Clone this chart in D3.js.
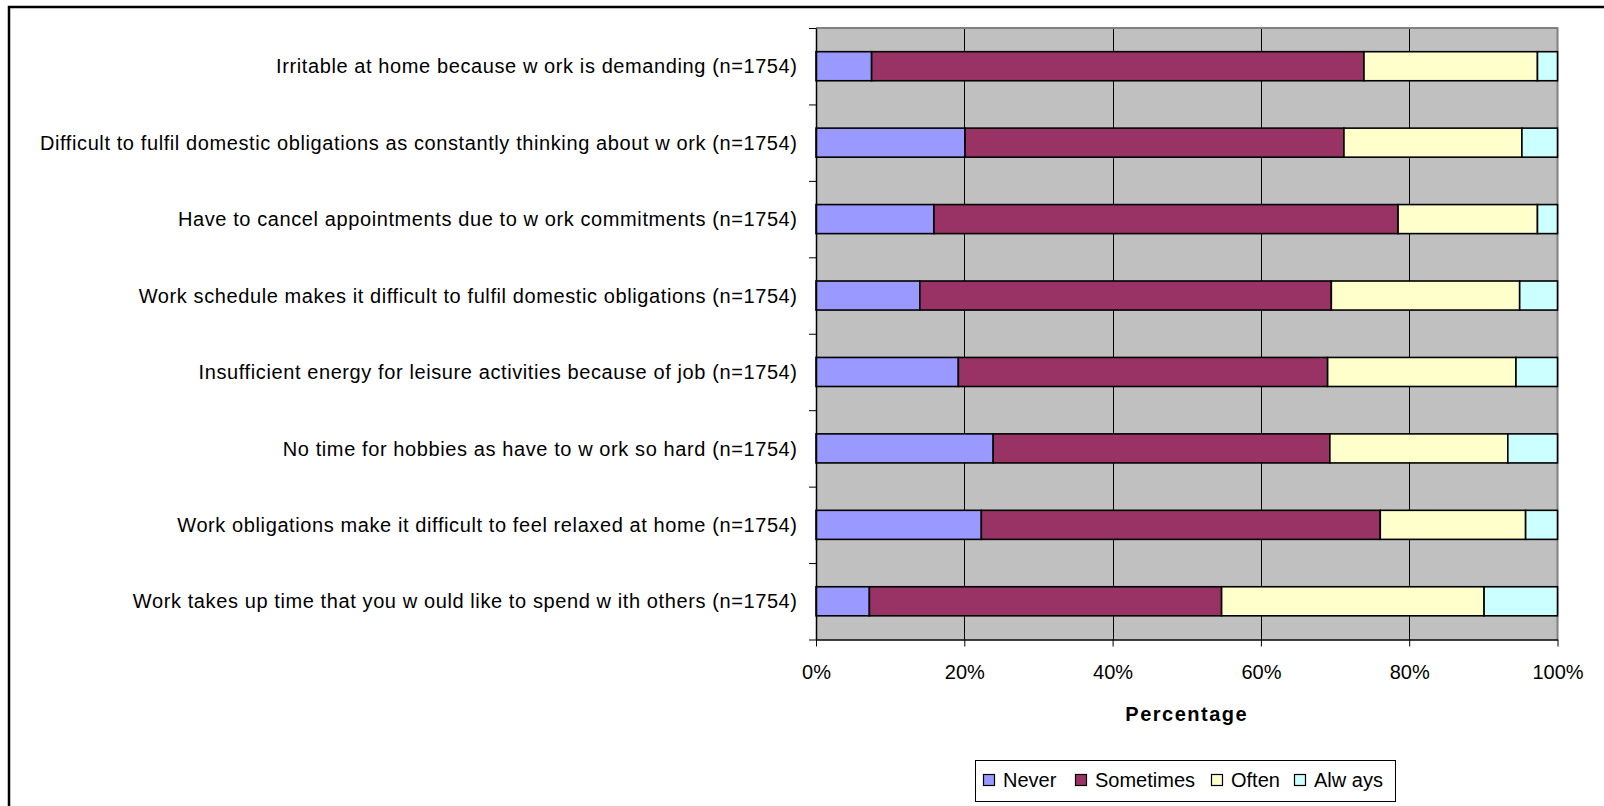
<!DOCTYPE html>
<html>
<head>
<meta charset="utf-8">
<script src="https://cdn.jsdelivr.net/npm/d3@7"></script>
<style>
  html, body { margin: 0; padding: 0; background: #ffffff; }
  svg { display: block; }
  text { font-family: "Liberation Sans", Arial, sans-serif; fill: #000; }
</style>
</head>
<body>
<svg id="chart" width="1604" height="806"></svg>
<script>
const categories = [
  "Irritable at home because w ork is demanding (n=1754)",
  "Difficult to fulfil domestic obligations as constantly thinking about w ork (n=1754)",
  "Have to cancel appointments due to w ork commitments (n=1754)",
  "Work schedule makes it difficult to fulfil domestic obligations (n=1754)",
  "Insufficient energy for leisure activities because of job (n=1754)",
  "No time for hobbies as have to w ork so hard (n=1754)",
  "Work obligations make it difficult to feel relaxed at home (n=1754)",
  "Work takes up time that you w ould like to spend w ith others (n=1754)"
];
const seriesNames = ["Never", "Sometimes", "Often", "Always"];
const legendLabels = ["Never", "Sometimes", "Often", "Alw ays"];
const never     = [7.5, 20.1, 15.9, 14.0, 19.2, 23.9, 22.3, 7.2];
const sometimes = [66.4, 51.1, 62.6, 55.5, 49.8, 45.4, 53.8, 47.5];
const often     = [23.4, 24.0, 18.8, 25.4, 25.4, 24.0, 19.6, 35.4];
const always    = [2.7, 4.8, 2.7, 5.1, 5.6, 6.7, 4.3, 9.9];
const xTicks = [0, 20, 40, 60, 80, 100];
const colors = ["#9999FF", "#993366", "#FFFFCC", "#CCFFFF"];

const rows = categories.map((c, i) => ({
  cat: c, Never: never[i], Sometimes: sometimes[i], Often: often[i], Always: always[i]
}));
const stacked = d3.stack().keys(seriesNames).offset(d3.stackOffsetExpand)(rows);

const svg = d3.select("#chart");
const L = 816, R = 1557.5, T = 28, B = 639.5;

// outer chart border
svg.append("rect").attr("x", 9).attr("y", 7).attr("width", 1610).attr("height", 820)
  .attr("fill", "#fff").attr("stroke", "#000").attr("stroke-width", 2.5);

const x = d3.scaleLinear().domain([0, 1]).range([L, R]);
const y = d3.scaleBand().domain(categories).range([T, B]).paddingInner(0.62).paddingOuter(0.31);
const yT = d3.scaleLinear().domain([0, categories.length]).range([T, B]);

// plot background
svg.append("rect").attr("x", L).attr("y", T).attr("width", R - L).attr("height", B - T)
  .attr("fill", "#C0C0C0");

// gridlines
svg.append("g").selectAll("line").data(xTicks.filter(t => t > 0 && t < 100)).join("line")
  .attr("x1", d => Math.round(x(d / 100)) + 0.5).attr("x2", d => Math.round(x(d / 100)) + 0.5)
  .attr("y1", T).attr("y2", B).attr("stroke", "#000").attr("stroke-width", 1);

// plot border top/right
svg.append("path").attr("d", `M${L},${T}H${R}V${B}`).attr("fill", "none")
  .attr("stroke", "#808080").attr("stroke-width", 2);

// bars
svg.append("g").selectAll("g").data(stacked).join("g")
  .attr("fill", (d, i) => colors[i])
  .selectAll("rect").data(d => d).join("rect")
  .attr("x", d => x(d[0])).attr("width", d => x(d[1]) - x(d[0]))
  .attr("y", d => y(d.data.cat)).attr("height", y.bandwidth())
  .attr("stroke", "#000").attr("stroke-width", 1.6);

// y axis
const yAxis = svg.append("g").attr("transform", `translate(${L},0)`)
  .call(d3.axisLeft(yT).tickValues(d3.range(0, categories.length + 1)).tickFormat("").tickSize(7).tickSizeOuter(0));
yAxis.select(".domain").attr("stroke", "#000").attr("stroke-width", 1.5);
yAxis.selectAll(".tick line").attr("stroke", "#000").attr("stroke-width", 1);

// category labels
svg.append("g").selectAll("text").data(categories).join("text")
  .attr("x", 797.6).attr("y", d => y(d) + y.bandwidth() / 2).attr("dy", "0.36em")
  .attr("text-anchor", "end").style("font-size", "20px").style("letter-spacing", "0.6px").text(d => d);

// x axis
const xAxis = svg.append("g").attr("transform", `translate(0,${B})`)
  .call(d3.axisBottom(x).tickValues(xTicks.map(t => t / 100)).tickFormat(d => Math.round(d * 100) + "%").tickSize(7).tickSizeOuter(0).tickPadding(18));
xAxis.select(".domain").attr("stroke", "#000").attr("stroke-width", 1.5);
xAxis.selectAll(".tick line").attr("stroke", "#000");
xAxis.selectAll(".tick text").style("font-size", "20px").style("font-family", "'Liberation Sans', Arial, sans-serif").attr("fill", "#000");

// axis title
svg.append("text").attr("x", (L + R) / 2).attr("y", 721).attr("text-anchor", "middle")
  .style("font-size", "20px").style("font-weight", "bold").style("letter-spacing", "1.5px").text("Percentage");

// legend
const legend = svg.append("g");
legend.append("rect").attr("x", 975.5).attr("y", 760.5).attr("width", 420).attr("height", 41)
  .attr("fill", "#fff").attr("stroke", "#000").attr("stroke-width", 1);
const legX = [983, 1075, 1211, 1294];
legendLabels.forEach((lab, i) => {
  legend.append("rect").attr("x", legX[i] + 0.5).attr("y", 774.5).attr("width", 11).attr("height", 11)
    .attr("fill", colors[i]).attr("stroke", "#000").attr("stroke-width", 1.2);
  legend.append("text").attr("x", legX[i] + 20).attr("y", 787).style("font-size", "20px").text(lab);
});
</script>
</body>
</html>
